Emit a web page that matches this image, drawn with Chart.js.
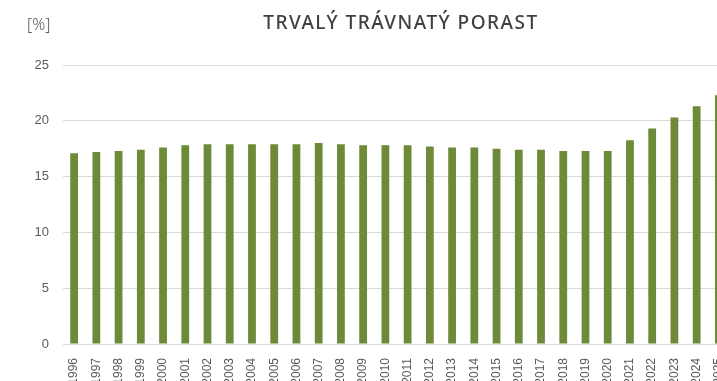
<!DOCTYPE html>
<html>
<head>
<meta charset="utf-8">
<script src="https://cdn.jsdelivr.net/npm/chart.js@4"></script>
<style>
    html, body { margin: 0; padding: 0; background: #fff; overflow: hidden; }
    #wrap { width: 800px; height: 381px; }
</style>
</head>
<body>
<div id="wrap"><canvas id="grassChart" width="800" height="381"></canvas></div>
<script>
// Podíl trvalého travního porostu, roky 1996–2025
const years = ['1996', '1997', '1998', '1999', '2000', '2001', '2002', '2003', '2004', '2005',
    '2006', '2007', '2008', '2009', '2010', '2011', '2012', '2013', '2014', '2015',
    '2016', '2017', '2018', '2019', '2020', '2021', '2022', '2023', '2024', '2025'];
const shares = [17.1, 17.2, 17.3, 17.4, 17.6, 17.8, 17.9, 17.9, 17.9, 17.9,
    17.9, 18.0, 17.9, 17.8, 17.8, 17.8, 17.7, 17.6, 17.6, 17.5,
    17.4, 17.4, 17.3, 17.3, 17.3, 18.25, 19.3, 20.3, 21.3, 22.3];
const yTicks = [0, 5, 10, 15, 20, 25];

const chartTitle = 'TRVALÝ TRÁVNATÝ PORAST';
const unitLabel = '[%]';

// title + unit drawn at fixed spots above the plot
const headerPlugin = {
    id: 'header',
    afterDraw(chart) {
        const ctx = chart.ctx;
        ctx.save();
        ctx.fillStyle = '#404040';
        ctx.font = '500 19px "Noto Sans"';
        ctx.letterSpacing = '1.5px';
        ctx.textAlign = 'center';
        ctx.textBaseline = 'middle';
        ctx.fillText(chartTitle, 401, 24);
        ctx.letterSpacing = '0px';
        ctx.fillStyle = '#595959';
        ctx.font = '300 16px "Noto Sans"';
        ctx.textAlign = 'left';
        ctx.fillText(unitLabel, 27, 25);
        ctx.restore();
    }
};

new Chart('grassChart', {
    type: 'bar',
    data: {
        labels: years,
        datasets: [{
            data: shares,
            backgroundColor: '#6d8a38',
            borderWidth: 0,
            categoryPercentage: 1,
            barPercentage: 0.35
        }]
    },
    options: {
        responsive: false,
        animation: false,
        layout: { padding: { top: 65, right: 70, left: 0, bottom: 0 } },
        plugins: {
            legend: { display: false },
            tooltip: { enabled: false }
        },
        scales: {
            x: {
                grid: { display: false },
                border: { color: '#d9d9d9' },
                ticks: {
                    color: '#595959',
                    font: { family: '"Liberation Sans"', size: 12 },
                    minRotation: 90,
                    maxRotation: 90,
                    autoSkip: false,
                    padding: 6
                },
                afterFit(scale) { scale.height = 37; }
            },
            y: {
                min: 0,
                max: 25,
                afterBuildTicks(scale) { scale.ticks = yTicks.map(v => ({ value: v })); },
                grid: { color: '#d9d9d9', drawTicks: false },
                border: { display: false },
                ticks: {
                    color: '#595959',
                    font: { family: '"Liberation Sans"', size: 13 },
                    padding: 14
                },
                afterFit(scale) { scale.width = 63; }
            }
        }
    },
    plugins: [headerPlugin]
});
</script>
</body>
</html>
